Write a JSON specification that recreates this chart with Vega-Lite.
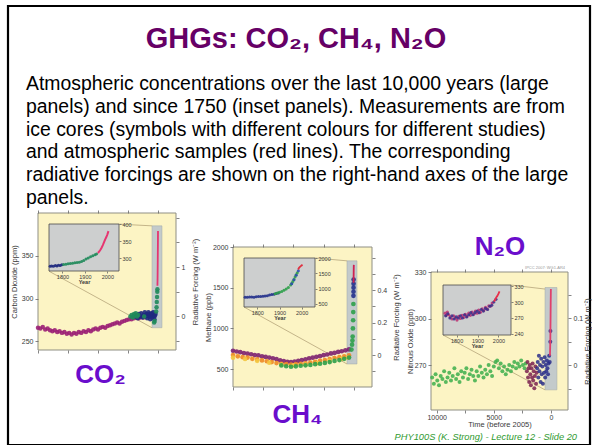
{
"$schema": "https://vega.github.io/schema/vega-lite/v6.json",
"width": 582, "height": 439, "autosize": "none",
"padding": {"left": 8, "top": 6, "right": 2, "bottom": 0},
"background": "#ffffff",
"view": {"stroke": "#000000", "strokeWidth": 2.2},
"config": {"font": "Liberation Sans", "axis": {"grid": false, "domain": false, "zindex": 1, "labelFont": "Liberation Sans", "titleFont": "Liberation Sans", "labelFontSize": 7, "titleFontSize": 7.5, "titleFontWeight": "normal", "labelColor": "#3a3a3a", "titleColor": "#3a3a3a", "tickColor": "#666666", "tickSize": 3, "tickWidth": 0.8, "labelFlush": false, "labelOverlap": false, "labelPadding": 2, "titlePadding": 3}},
"datasets": {
"lines": [
{"i": -1, "txt": "GHGs: CO₂, CH₄, N₂O"},
{"i": 1, "txt": "Atmospheric concentrations over the last 10,000 years (large"},
{"i": 2, "txt": "panels) and since 1750 (inset panels). Measurements are from"},
{"i": 3, "txt": "ice cores (symbols with different colours for different studies)"},
{"i": 4, "txt": "and atmospheric samples (red lines). The corresponding"},
{"i": 5, "txt": "radiative forcings are shown on the right-hand axes of the large"},
{"i": 6, "txt": "panels."},
{"i": 9.1, "txt": "IPCC 2007: WG1-AR4"},
{"i": 16.55, "txt": "PHY100S (K. Strong) - Lecture 12 - Slide 20"}
],
"co2": [
{"t":10000,"v":266,"s":"a"},{"t":9800,"v":265,"s":"a"},{"t":9600,"v":267,"s":"a"},{"t":9400,"v":264,"s":"a"},{"t":9200,"v":265,"s":"a"},{"t":9000,"v":263,"s":"a"},{"t":8800,"v":262,"s":"a"},{"t":8600,"v":263,"s":"a"},{"t":8400,"v":261,"s":"a"},{"t":8200,"v":262,"s":"a"},{"t":8000,"v":260,"s":"a"},{"t":7800,"v":261,"s":"a"},{"t":7600,"v":259,"s":"a"},{"t":7400,"v":260,"s":"a"},{"t":7200,"v":258,"s":"a"},{"t":7000,"v":260,"s":"a"},{"t":6800,"v":259,"s":"a"},{"t":6600,"v":261,"s":"a"},{"t":6400,"v":260,"s":"a"},{"t":6200,"v":262,"s":"a"},{"t":6000,"v":261,"s":"a"},{"t":5800,"v":263,"s":"a"},{"t":5600,"v":262,"s":"a"},{"t":5400,"v":264,"s":"a"},{"t":5200,"v":265,"s":"a"},{"t":5000,"v":264,"s":"a"},{"t":4800,"v":266,"s":"a"},{"t":4600,"v":267,"s":"a"},{"t":4400,"v":266,"s":"a"},{"t":4200,"v":268,"s":"a"},{"t":4000,"v":269,"s":"a"},{"t":3800,"v":270,"s":"a"},{"t":3600,"v":271,"s":"a"},{"t":3400,"v":272,"s":"a"},{"t":3200,"v":271,"s":"a"},{"t":3000,"v":273,"s":"a"},{"t":2800,"v":274,"s":"a"},{"t":2600,"v":275,"s":"a"},{"t":2400,"v":276,"s":"a"},{"t":2200,"v":276,"s":"a"},{"t":2000,"v":277,"s":"a"},{"t":1800,"v":278,"s":"a"},{"t":1600,"v":277,"s":"a"},{"t":1400,"v":279,"s":"a"},{"t":1200,"v":278,"s":"a"},{"t":1000,"v":280,"s":"a"},
{"t":1900,"v":279,"s":"b"},{"t":1800,"v":281,"s":"b"},{"t":1700,"v":277,"s":"b"},{"t":1600,"v":282,"s":"b"},{"t":1500,"v":279,"s":"b"},{"t":1400,"v":283,"s":"b"},{"t":1300,"v":278,"s":"b"},{"t":1200,"v":281,"s":"b"},{"t":1100,"v":284,"s":"b"},{"t":1000,"v":279,"s":"b"},{"t":950,"v":282,"s":"b"},{"t":900,"v":277,"s":"b"},{"t":850,"v":281,"s":"b"},{"t":800,"v":284,"s":"b"},{"t":750,"v":279,"s":"b"},{"t":700,"v":282,"s":"b"},{"t":650,"v":276,"s":"b"},{"t":600,"v":280,"s":"b"},{"t":550,"v":283,"s":"b"},{"t":500,"v":278,"s":"b"},{"t":450,"v":281,"s":"b"},{"t":400,"v":284,"s":"b"},{"t":350,"v":279,"s":"b"},{"t":300,"v":276,"s":"b"},{"t":250,"v":280,"s":"b"},{"t":200,"v":282,"s":"b"},
{"t":2300,"v":279,"s":"c"},{"t":2200,"v":281,"s":"c"},{"t":2100,"v":278,"s":"c"},{"t":2000,"v":282,"s":"c"},{"t":1950,"v":280,"s":"c"},{"t":1850,"v":283,"s":"c"},{"t":1750,"v":279,"s":"c"},{"t":1650,"v":281,"s":"c"},{"t":1150,"v":279,"s":"c"},{"t":320,"v":272,"s":"c"},{"t":280,"v":274,"s":"c"},{"t":150,"v":285,"s":"c"},{"t":120,"v":290,"s":"c"},{"t":100,"v":296,"s":"c"},{"t":80,"v":302,"s":"c"},{"t":60,"v":308,"s":"c"},{"t":50,"v":311,"s":"c"},
{"t":47,"v":315,"s":"d"},{"t":40,"v":320,"s":"d"},{"t":35,"v":325,"s":"d"},{"t":30,"v":331,"s":"d"},{"t":25,"v":338,"s":"d"},{"t":20,"v":346,"s":"d"},{"t":15,"v":354,"s":"d"},{"t":10,"v":361,"s":"d"},{"t":5,"v":369,"s":"d"},{"t":0,"v":379,"s":"d"}
],
"co2i": [
{"t":1745,"v":276,"s":"b"},{"t":1752,"v":277,"s":"b"},{"t":1760,"v":276,"s":"b"},{"t":1768,"v":278,"s":"b"},{"t":1775,"v":277,"s":"b"},{"t":1782,"v":279,"s":"b"},{"t":1790,"v":278,"s":"b"},{"t":1797,"v":280,"s":"b"},
{"t":1805,"v":281,"s":"c"},{"t":1815,"v":282,"s":"c"},{"t":1825,"v":283,"s":"c"},{"t":1835,"v":284,"s":"c"},{"t":1845,"v":285,"s":"c"},{"t":1855,"v":286,"s":"c"},{"t":1865,"v":287,"s":"c"},{"t":1875,"v":288,"s":"c"},{"t":1885,"v":290,"s":"c"},{"t":1895,"v":293,"s":"c"},{"t":1905,"v":297,"s":"c"},{"t":1915,"v":300,"s":"c"},{"t":1925,"v":304,"s":"c"},{"t":1935,"v":307,"s":"c"},{"t":1945,"v":310,"s":"c"},{"t":1952,"v":312,"s":"c"},
{"t":1958,"v":315,"s":"d"},{"t":1965,"v":320,"s":"d"},{"t":1970,"v":325,"s":"d"},{"t":1975,"v":331,"s":"d"},{"t":1980,"v":338,"s":"d"},{"t":1985,"v":346,"s":"d"},{"t":1990,"v":354,"s":"d"},{"t":1995,"v":361,"s":"d"},{"t":2000,"v":369,"s":"d"},{"t":2005,"v":379,"s":"d"}
],
"ch4": [
{"t":10000,"v":725,"s":"a"},{"t":9700,"v":716,"s":"a"},{"t":9400,"v":708,"s":"a"},{"t":9100,"v":697,"s":"a"},{"t":8800,"v":690,"s":"a"},{"t":8500,"v":682,"s":"a"},{"t":8200,"v":672,"s":"a"},{"t":7900,"v":668,"s":"a"},{"t":7600,"v":656,"s":"a"},{"t":7300,"v":650,"s":"a"},{"t":7000,"v":641,"s":"a"},{"t":6700,"v":632,"s":"a"},{"t":6400,"v":622,"s":"a"},{"t":6100,"v":606,"s":"a"},{"t":5800,"v":597,"s":"a"},{"t":5500,"v":590,"s":"a"},{"t":5200,"v":586,"s":"a"},{"t":4900,"v":592,"s":"a"},{"t":4600,"v":600,"s":"a"},{"t":4300,"v":611,"s":"a"},{"t":4000,"v":619,"s":"a"},{"t":3700,"v":632,"s":"a"},{"t":3400,"v":640,"s":"a"},{"t":3100,"v":651,"s":"a"},{"t":2800,"v":659,"s":"a"},{"t":2500,"v":671,"s":"a"},{"t":2200,"v":679,"s":"a"},{"t":1900,"v":692,"s":"a"},{"t":1600,"v":699,"s":"a"},{"t":1300,"v":711,"s":"a"},{"t":1000,"v":719,"s":"a"},{"t":700,"v":731,"s":"a"},{"t":400,"v":742,"s":"a"},
{"t":10000,"v":672,"s":"b"},{"t":9600,"v":657,"s":"b"},{"t":9200,"v":646,"s":"b"},{"t":8800,"v":641,"s":"b"},{"t":8400,"v":626,"s":"b"},{"t":8000,"v":619,"s":"b"},{"t":7600,"v":606,"s":"b"},{"t":7200,"v":596,"s":"b"},{"t":6800,"v":586,"s":"b"},{"t":6400,"v":574,"s":"b"},{"t":6000,"v":566,"s":"b"},{"t":5600,"v":560,"s":"b"},{"t":5200,"v":554,"s":"b"},{"t":4800,"v":560,"s":"b"},{"t":4400,"v":566,"s":"b"},{"t":4000,"v":571,"s":"b"},{"t":3600,"v":581,"s":"b"},{"t":3200,"v":589,"s":"b"},{"t":2800,"v":601,"s":"b"},{"t":2400,"v":611,"s":"b"},{"t":2000,"v":624,"s":"b"},{"t":1600,"v":636,"s":"b"},{"t":1200,"v":646,"s":"b"},{"t":800,"v":656,"s":"b"},{"t":400,"v":668,"s":"b"},
{"t":10000,"v":640,"s":"c"},{"t":9000,"v":624,"s":"c"},{"t":8000,"v":601,"s":"c"},{"t":7000,"v":579,"s":"c"},{"t":6000,"v":556,"s":"c"},{"t":5000,"v":546,"s":"c"},{"t":4000,"v":556,"s":"c"},{"t":3000,"v":574,"s":"c"},{"t":2000,"v":601,"s":"c"},{"t":1000,"v":626,"s":"c"},{"t":500,"v":641,"s":"c"},
{"t":6000,"v":545,"s":"e"},{"t":5600,"v":535,"s":"e"},{"t":5200,"v":529,"s":"e"},{"t":4800,"v":534,"s":"e"},{"t":4400,"v":541,"s":"e"},{"t":4000,"v":546,"s":"e"},{"t":3600,"v":551,"s":"e"},{"t":3200,"v":561,"s":"e"},{"t":2800,"v":566,"s":"e"},{"t":2400,"v":576,"s":"e"},{"t":2000,"v":586,"s":"e"},{"t":1600,"v":600,"s":"e"},{"t":1200,"v":611,"s":"e"},{"t":800,"v":626,"s":"e"},{"t":400,"v":641,"s":"e"},{"t":200,"v":740,"s":"e"},{"t":150,"v":800,"s":"e"},{"t":120,"v":850,"s":"e"},{"t":100,"v":900,"s":"e"},{"t":80,"v":1000,"s":"e"},{"t":60,"v":1100,"s":"e"},{"t":50,"v":1200,"s":"e"},{"t":40,"v":1300,"s":"e"},
{"t":35,"v":1400,"s":"f"},{"t":30,"v":1450,"s":"f"},{"t":27,"v":1500,"s":"f"},{"t":24,"v":1550,"s":"f"},{"t":20,"v":1600,"s":"f"},
{"t":25,"v":1560,"s":"d"},{"t":20,"v":1630,"s":"d"},{"t":15,"v":1700,"s":"d"},{"t":10,"v":1750,"s":"d"},{"t":5,"v":1775,"s":"d"},{"t":0,"v":1780,"s":"d"}
],
"ch4i": [
{"t":1745,"v":720,"s":"f"},{"t":1755,"v":715,"s":"f"},{"t":1765,"v":725,"s":"f"},{"t":1775,"v":730,"s":"f"},{"t":1785,"v":720,"s":"f"},{"t":1795,"v":735,"s":"f"},{"t":1805,"v":740,"s":"f"},{"t":1815,"v":745,"s":"f"},{"t":1825,"v":750,"s":"f"},{"t":1835,"v":760,"s":"f"},{"t":1845,"v":770,"s":"f"},{"t":1855,"v":790,"s":"f"},{"t":1865,"v":805,"s":"f"},{"t":1875,"v":820,"s":"f"},{"t":1885,"v":840,"s":"f"},{"t":1895,"v":860,"s":"f"},
{"t":1880,"v":835,"s":"e"},{"t":1890,"v":855,"s":"e"},{"t":1900,"v":880,"s":"e"},{"t":1910,"v":910,"s":"e"},{"t":1920,"v":945,"s":"e"},{"t":1930,"v":990,"s":"e"},{"t":1940,"v":1040,"s":"e"},{"t":1950,"v":1120,"s":"e"},{"t":1955,"v":1170,"s":"e"},{"t":1960,"v":1230,"s":"e"},{"t":1965,"v":1300,"s":"e"},{"t":1970,"v":1380,"s":"e"},{"t":1975,"v":1450,"s":"e"},{"t":1980,"v":1520,"s":"e"},
{"t":1955,"v":1160,"s":"g"},{"t":1965,"v":1290,"s":"g"},{"t":1975,"v":1440,"s":"g"},{"t":1985,"v":1580,"s":"g"},
{"t":1984,"v":1625,"s":"d"},{"t":1988,"v":1680,"s":"d"},{"t":1992,"v":1710,"s":"d"},{"t":1996,"v":1735,"s":"d"},{"t":2000,"v":1760,"s":"d"},{"t":2004,"v":1775,"s":"d"}
],
"n2o": [
{"t":10400,"v":262,"s":"e"},{"t":10250,"v":258,"s":"e"},{"t":10100,"v":264,"s":"e"},{"t":9950,"v":260,"s":"e"},{"t":9800,"v":257,"s":"e"},{"t":9650,"v":263,"s":"e"},{"t":9500,"v":261,"s":"e"},{"t":9350,"v":266,"s":"e"},{"t":9200,"v":259,"s":"e"},{"t":9050,"v":262,"s":"e"},{"t":8900,"v":265,"s":"e"},{"t":8750,"v":260,"s":"e"},{"t":8600,"v":263,"s":"e"},{"t":8450,"v":268,"s":"e"},{"t":8300,"v":261,"s":"e"},{"t":8150,"v":264,"s":"e"},{"t":8000,"v":259,"s":"e"},{"t":7850,"v":266,"s":"e"},{"t":7700,"v":262,"s":"e"},{"t":7550,"v":265,"s":"e"},{"t":7400,"v":268,"s":"e"},{"t":7250,"v":261,"s":"e"},{"t":7100,"v":264,"s":"e"},{"t":6950,"v":267,"s":"e"},{"t":6800,"v":263,"s":"e"},{"t":6650,"v":260,"s":"e"},{"t":6500,"v":266,"s":"e"},{"t":6350,"v":263,"s":"e"},{"t":6200,"v":269,"s":"e"},{"t":6050,"v":265,"s":"e"},{"t":5900,"v":262,"s":"e"},{"t":5750,"v":267,"s":"e"},{"t":5600,"v":264,"s":"e"},{"t":5450,"v":270,"s":"e"},{"t":5300,"v":266,"s":"e"},{"t":5150,"v":263,"s":"e"},{"t":5000,"v":269,"s":"e"},{"t":4850,"v":272,"s":"e"},{"t":4700,"v":273,"s":"e"},{"t":4550,"v":268,"s":"e"},{"t":4400,"v":271,"s":"e"},{"t":4250,"v":266,"s":"e"},{"t":4100,"v":269,"s":"e"},{"t":3950,"v":264,"s":"e"},{"t":3800,"v":267,"s":"e"},{"t":3650,"v":270,"s":"e"},{"t":3500,"v":266,"s":"e"},{"t":3350,"v":269,"s":"e"},{"t":3200,"v":272,"s":"e"},{"t":3050,"v":268,"s":"e"},{"t":2900,"v":271,"s":"e"},{"t":2750,"v":269,"s":"e"},{"t":2600,"v":273,"s":"e"},{"t":2450,"v":270,"s":"e"},{"t":2300,"v":268,"s":"e"},{"t":2200,"v":271,"s":"e"},
{"t":2100,"v":266,"s":"a"},{"t":2050,"v":272,"s":"a"},{"t":2000,"v":262,"s":"a"},{"t":1950,"v":268,"s":"a"},{"t":1900,"v":259,"s":"a"},{"t":1850,"v":270,"s":"a"},{"t":1800,"v":264,"s":"a"},{"t":1750,"v":257,"s":"a"},{"t":1700,"v":268,"s":"a"},{"t":1650,"v":262,"s":"a"},{"t":1600,"v":271,"s":"a"},{"t":1550,"v":260,"s":"a"},{"t":1500,"v":266,"s":"a"},{"t":1450,"v":255,"s":"a"},{"t":1400,"v":263,"s":"a"},{"t":1350,"v":269,"s":"a"},{"t":1300,"v":258,"s":"a"},{"t":1250,"v":265,"s":"a"},
{"t":1200,"v":268,"s":"b"},{"t":1150,"v":272,"s":"b"},{"t":1100,"v":262,"s":"b"},{"t":1050,"v":276,"s":"b"},{"t":1000,"v":266,"s":"b"},{"t":950,"v":270,"s":"b"},{"t":900,"v":259,"s":"b"},{"t":850,"v":274,"s":"b"},{"t":800,"v":264,"s":"b"},{"t":750,"v":269,"s":"b"},{"t":700,"v":258,"s":"b"},{"t":650,"v":272,"s":"b"},{"t":600,"v":265,"s":"b"},{"t":550,"v":275,"s":"b"},{"t":500,"v":262,"s":"b"},{"t":450,"v":270,"s":"b"},{"t":400,"v":266,"s":"b"},{"t":350,"v":273,"s":"b"},{"t":300,"v":268,"s":"b"},{"t":250,"v":264,"s":"b"},{"t":200,"v":271,"s":"b"},{"t":150,"v":276,"s":"b"},{"t":100,"v":272,"s":"b"},{"t":50,"v":285,"s":"b"},{"t":40,"v":292,"s":"b"},
{"t":80,"v":276,"s":"d"},{"t":60,"v":282,"s":"d"},{"t":45,"v":288,"s":"d"},{"t":35,"v":295,"s":"d"},{"t":25,"v":302,"s":"d"},{"t":15,"v":310,"s":"d"},{"t":5,"v":316,"s":"d"},{"t":0,"v":319,"s":"d"}
],
"n2oi": [
{"t":1745,"v":279,"s":"a"},{"t":1750,"v":275,"s":"a"},{"t":1756,"v":281,"s":"a"},{"t":1762,"v":276,"s":"a"},{"t":1770,"v":272,"s":"a"},{"t":1778,"v":268,"s":"a"},{"t":1786,"v":274,"s":"a"},{"t":1794,"v":270,"s":"a"},{"t":1802,"v":266,"s":"a"},{"t":1810,"v":273,"s":"a"},{"t":1818,"v":269,"s":"a"},{"t":1826,"v":275,"s":"a"},{"t":1834,"v":271,"s":"a"},{"t":1842,"v":277,"s":"a"},{"t":1850,"v":273,"s":"a"},{"t":1858,"v":279,"s":"a"},{"t":1866,"v":275,"s":"a"},{"t":1874,"v":281,"s":"a"},{"t":1882,"v":277,"s":"a"},{"t":1890,"v":283,"s":"a"},{"t":1898,"v":279,"s":"a"},{"t":1906,"v":285,"s":"a"},{"t":1914,"v":281,"s":"a"},{"t":1922,"v":287,"s":"a"},{"t":1930,"v":284,"s":"a"},{"t":1938,"v":290,"s":"a"},{"t":1946,"v":287,"s":"a"},{"t":1954,"v":293,"s":"a"},{"t":1962,"v":292,"s":"a"},{"t":1970,"v":298,"s":"a"},
{"t":1748,"v":274,"s":"b"},{"t":1758,"v":278,"s":"b"},{"t":1768,"v":270,"s":"b"},{"t":1778,"v":274,"s":"b"},{"t":1788,"v":268,"s":"b"},{"t":1798,"v":272,"s":"b"},{"t":1808,"v":270,"s":"b"},{"t":1818,"v":274,"s":"b"},{"t":1828,"v":270,"s":"b"},{"t":1838,"v":276,"s":"b"},{"t":1848,"v":272,"s":"b"},{"t":1858,"v":276,"s":"b"},{"t":1868,"v":280,"s":"b"},{"t":1878,"v":276,"s":"b"},{"t":1888,"v":280,"s":"b"},{"t":1898,"v":283,"s":"b"},{"t":1908,"v":280,"s":"b"},{"t":1918,"v":286,"s":"b"},{"t":1928,"v":283,"s":"b"},{"t":1938,"v":288,"s":"b"},{"t":1948,"v":286,"s":"b"},{"t":1958,"v":292,"s":"b"},{"t":1968,"v":294,"s":"b"},{"t":1978,"v":300,"s":"b"},{"t":1988,"v":305,"s":"b"},
{"t":1978,"v":301,"s":"d"},{"t":1982,"v":303,"s":"d"},{"t":1986,"v":306,"s":"d"},{"t":1990,"v":309,"s":"d"},{"t":1994,"v":311,"s":"d"},{"t":1998,"v":314,"s":"d"},{"t":2002,"v":317,"s":"d"},{"t":2005,"v":320,"s":"d"}
]
},
"resolve": {"scale": {"x": "independent", "y": "independent", "color": "independent"}, "axis": {"x": "independent", "y": "independent"}},
"layer": [
{"data": {"name": "lines"}, "transform": [{"filter": "datum.i == -1"}],
 "mark": {"type": "text", "fontSize": 29, "fontWeight": "bold", "color": "#660066", "align": "center", "baseline": "middle", "font": "Liberation Sans"},
 "encoding": {"text": {"field": "txt"}, "x": {"datum": 0.49, "type": "quantitative", "scale": {"domain": [0, 1], "range": [18, 569], "nice": false, "zero": false}, "axis": null}, "y": {"field": "i", "type": "quantitative", "scale": {"domain": [-1, 6], "range": [32.8, 191.6], "nice": false, "zero": false}, "axis": null}}},
{"data": {"name": "lines"}, "transform": [{"filter": "datum.i >= 1 && datum.i <= 6"}],
 "mark": {"type": "text", "fontSize": 19.4, "color": "#000000", "align": "left", "baseline": "middle", "font": "Liberation Sans"},
 "encoding": {"text": {"field": "txt"}, "x": {"datum": 0, "type": "quantitative", "scale": {"domain": [0, 1], "range": [18, 569], "nice": false, "zero": false}, "axis": null}, "y": {"field": "i", "type": "quantitative", "scale": {"domain": [-1, 6], "range": [32.8, 191.6], "nice": false, "zero": false}, "axis": null}}},
{"data": {"name": "lines"}, "transform": [{"filter": "datum.i > 9 && datum.i < 10"}],
 "mark": {"type": "text", "fontSize": 4, "color": "#9a9a9a", "align": "center", "baseline": "middle", "font": "Liberation Sans"},
 "encoding": {"text": {"field": "txt"}, "x": {"datum": 0.942, "type": "quantitative", "scale": {"domain": [0, 1], "range": [18, 569], "nice": false, "zero": false}, "axis": null}, "y": {"field": "i", "type": "quantitative", "scale": {"domain": [-1, 6], "range": [32.8, 191.6], "nice": false, "zero": false}, "axis": null}}},
{"data": {"name": "lines"}, "transform": [{"filter": "datum.i > 10"}],
 "mark": {"type": "text", "fontSize": 9.3, "fontStyle": "italic", "color": "#2f9a30", "align": "right", "baseline": "middle", "font": "Liberation Sans"},
 "encoding": {"text": {"field": "txt"}, "x": {"datum": 1, "type": "quantitative", "scale": {"domain": [0, 1], "range": [18, 569], "nice": false, "zero": false}, "axis": null}, "y": {"field": "i", "type": "quantitative", "scale": {"domain": [-1, 6], "range": [32.8, 191.6], "nice": false, "zero": false}, "axis": null}}},

{"data": {"values": [{}]}, "mark": {"type": "rect", "fill": "#fcf4c4", "stroke": "#8f8f84", "strokeWidth": 1},
 "encoding": {
  "x": {"datum": 10000, "type": "quantitative", "scale": {"domain": [10000, -1500], "range": [30, 168], "nice": false, "zero": false}, "axis": {"orient": "bottom", "offset": -95, "zindex": 1, "values": [10000, 7500, 5000, 2500, 0], "labels": false, "title": "CO₂", "titleFontSize": 26, "titleFontWeight": "bold", "titleColor": "#6a0dcc", "titlePadding": 8, "titleX": 92}},
  "x2": {"datum": -1500},
  "y": {"datum": 240, "type": "quantitative", "scale": {"domain": [240, 400], "range": [344, 207], "nice": false, "zero": false}, "axis": {"orient": "left", "offset": -30, "zindex": 1, "values": [250, 300, 350], "format": "d", "title": "Carbon Dioxide (ppm)"}},
  "y2": {"datum": 400}}},
{"data": {"values": [{}]}, "mark": {"type": "rect", "fill": "#c3cacb", "stroke": "#a0a8a8", "strokeWidth": 0.5},
 "encoding": {
  "x": {"datum": 500, "type": "quantitative", "scale": {"domain": [10000, -1500], "range": [30, 168], "nice": false, "zero": false}, "axis": {"orient": "top", "offset": -207, "zindex": 1, "values": [10000, 7500, 5000, 2500, 0], "labels": false, "title": null}},
  "x2": {"datum": -330},
  "y": {"datum": 266, "type": "quantitative", "scale": {"domain": [240, 400], "range": [344, 207], "nice": false, "zero": false}, "axis": null},
  "y2": {"datum": 385}}},
{"data": {"values": [{"t": 9083, "v": 332, "t2": 500, "v2": 266}, {"t": 3250, "v": 387, "t2": 500, "v2": 385}]},
 "mark": {"type": "rule", "color": "#b5a57a", "strokeWidth": 0.8},
 "encoding": {
  "x": {"field": "t", "type": "quantitative", "scale": {"domain": [10000, -1500], "range": [30, 168], "nice": false, "zero": false}, "axis": null}, "x2": {"field": "t2"},
  "y": {"field": "v", "type": "quantitative", "scale": {"domain": [240, 400], "range": [344, 207], "nice": false, "zero": false}, "axis": null}, "y2": {"field": "v2"}}},
{"data": {"name": "co2"}, "transform": [{"filter": "datum.s != 'd'"}],
 "mark": {"type": "circle", "size": 20, "opacity": 0.9},
 "encoding": {
  "x": {"field": "t", "type": "quantitative", "scale": {"domain": [10000, -1500], "range": [30, 168], "nice": false, "zero": false}, "axis": null},
  "y": {"field": "v", "type": "quantitative", "scale": {"domain": [240, 400], "range": [344, 207], "nice": false, "zero": false}, "axis": null},
  "color": {"field": "s", "type": "nominal", "scale": {"domain": ["a", "b", "c"], "range": ["#9b2076", "#1f2a80", "#1f8a5a"]}, "legend": null}}},
{"data": {"name": "co2"}, "transform": [{"filter": "datum.s == 'd'"}],
 "mark": {"type": "line", "color": "#e63570", "strokeWidth": 1.8},
 "encoding": {
  "x": {"field": "t", "type": "quantitative", "scale": {"domain": [10000, -1500], "range": [30, 168], "nice": false, "zero": false}, "axis": null},
  "y": {"field": "v", "type": "quantitative", "scale": {"domain": [240, 400], "range": [344, 207], "nice": false, "zero": false}, "axis": null}}},
{"data": {"values": [{}]}, "mark": {"type": "rule", "opacity": 0},
 "encoding": {"y": {"datum": 0, "type": "quantitative", "scale": {"domain": [-0.69, 2.1], "range": [344, 207], "nice": false, "zero": false}, "axis": {"orient": "right", "offset": -414, "zindex": 1, "values": [-0.5, 0, 0.5, 1, 1.5, 2], "labelExpr": "datum.value == 0 ? '0' : datum.value == 1 ? '1' : ''", "title": "Radiative Forcing (W m⁻²)", "titleAngle": 270, "titlePadding": 15}}}},
{"data": {"values": [{}]}, "mark": {"type": "rect", "fill": "#cdcfcf", "stroke": "#4a4a4a", "strokeWidth": 0.8},
 "encoding": {
  "x": {"datum": 1740, "type": "quantitative", "scale": {"domain": [1740, 2052], "range": [41, 111], "nice": false, "zero": false}, "axis": {"orient": "bottom", "offset": -174, "zindex": 2, "values": [1800, 1900, 2000], "format": "d", "labelFontSize": 5.5, "tickSize": 2, "labelPadding": 1, "title": "Year", "titleFontSize": 5.5, "titleFontWeight": "bold", "titlePadding": 0}},
  "x2": {"datum": 2052},
  "y": {"datum": 262, "type": "quantitative", "scale": {"domain": [262, 400], "range": [265, 218], "nice": false, "zero": false}, "axis": {"orient": "right", "offset": -471, "zindex": 2, "values": [300, 350, 400], "format": "d", "labelFontSize": 5.5, "tickSize": 2, "labelPadding": 1, "title": null}},
  "y2": {"datum": 400}}},
{"data": {"name": "co2i"}, "transform": [{"filter": "datum.s != 'd'"}],
 "mark": {"type": "circle", "size": 9, "opacity": 0.9},
 "encoding": {
  "x": {"field": "t", "type": "quantitative", "scale": {"domain": [1740, 2052], "range": [41, 111], "nice": false, "zero": false}, "axis": null},
  "y": {"field": "v", "type": "quantitative", "scale": {"domain": [262, 400], "range": [265, 218], "nice": false, "zero": false}, "axis": null},
  "color": {"field": "s", "type": "nominal", "scale": {"domain": ["b", "c"], "range": ["#1f2a80", "#1f8a5a"]}, "legend": null}}},
{"data": {"name": "co2i"}, "transform": [{"filter": "datum.s == 'd'"}],
 "mark": {"type": "line", "color": "#e63570", "strokeWidth": 2},
 "encoding": {
  "x": {"field": "t", "type": "quantitative", "scale": {"domain": [1740, 2052], "range": [41, 111], "nice": false, "zero": false}, "axis": null},
  "y": {"field": "v", "type": "quantitative", "scale": {"domain": [262, 400], "range": [265, 218], "nice": false, "zero": false}, "axis": null}}},

{"data": {"values": [{}]}, "mark": {"type": "rect", "fill": "#fcf4c4", "stroke": "#8f8f84", "strokeWidth": 1},
 "encoding": {
  "x": {"datum": 10000, "type": "quantitative", "scale": {"domain": [10000, -1500], "range": [225, 364], "nice": false, "zero": false}, "axis": {"orient": "bottom", "offset": -58, "zindex": 1, "values": [10000, 7500, 5000, 2500, 0], "labels": false, "title": "CH₄", "titleFontSize": 26, "titleFontWeight": "bold", "titleColor": "#6a0dcc", "titlePadding": 11, "titleX": 289}},
  "x2": {"datum": -1500},
  "y": {"datum": 280, "type": "quantitative", "scale": {"domain": [280, 2000], "range": [381, 241], "nice": false, "zero": false}, "axis": {"orient": "left", "offset": -225, "zindex": 1, "values": [500, 1000, 1500, 2000], "format": "d", "title": "Methane (ppb)", "titlePadding": 0}},
  "y2": {"datum": 2000}}},
{"data": {"values": [{}]}, "mark": {"type": "rect", "fill": "#c3cacb", "stroke": "#a0a8a8", "strokeWidth": 0.5},
 "encoding": {
  "x": {"datum": 570, "type": "quantitative", "scale": {"domain": [10000, -1500], "range": [225, 364], "nice": false, "zero": false}, "axis": {"orient": "top", "offset": -241, "zindex": 1, "values": [10000, 7500, 5000, 2500, 0], "labels": false, "title": null}},
  "x2": {"datum": -260},
  "y": {"datum": 563, "type": "quantitative", "scale": {"domain": [280, 2000], "range": [381, 241], "nice": false, "zero": false}, "axis": null},
  "y2": {"datum": 1830}}},
{"data": {"values": [{"t": 9090, "v": 1263, "t2": 570, "v2": 563}, {"t": 3216, "v": 1865, "t2": 570, "v2": 1830}]},
 "mark": {"type": "rule", "color": "#b5a57a", "strokeWidth": 0.8},
 "encoding": {
  "x": {"field": "t", "type": "quantitative", "scale": {"domain": [10000, -1500], "range": [225, 364], "nice": false, "zero": false}, "axis": null}, "x2": {"field": "t2"},
  "y": {"field": "v", "type": "quantitative", "scale": {"domain": [280, 2000], "range": [381, 241], "nice": false, "zero": false}, "axis": null}, "y2": {"field": "v2"}}},
{"data": {"name": "ch4"}, "transform": [{"filter": "datum.s != 'd'"}],
 "mark": {"type": "circle", "size": 22, "opacity": 0.9},
 "encoding": {
  "x": {"field": "t", "type": "quantitative", "scale": {"domain": [10000, -1500], "range": [225, 364], "nice": false, "zero": false}, "axis": null},
  "y": {"field": "v", "type": "quantitative", "scale": {"domain": [280, 2000], "range": [381, 241], "nice": false, "zero": false}, "axis": null},
  "color": {"field": "s", "type": "nominal", "scale": {"domain": ["a", "b", "c", "e", "f"], "range": ["#7d2270", "#ee8a25", "#f3c640", "#2ea04a", "#23318c"]}, "legend": null}}},
{"data": {"name": "ch4"}, "transform": [{"filter": "datum.s == 'd'"}],
 "mark": {"type": "line", "color": "#d02050", "strokeWidth": 1.8},
 "encoding": {
  "x": {"field": "t", "type": "quantitative", "scale": {"domain": [10000, -1500], "range": [225, 364], "nice": false, "zero": false}, "axis": null},
  "y": {"field": "v", "type": "quantitative", "scale": {"domain": [280, 2000], "range": [381, 241], "nice": false, "zero": false}, "axis": null}}},
{"data": {"values": [{}]}, "mark": {"type": "rule", "opacity": 0},
 "encoding": {"y": {"datum": 0, "type": "quantitative", "scale": {"domain": [-0.197, 0.665], "range": [381, 241], "nice": false, "zero": false}, "axis": {"orient": "right", "offset": -218, "zindex": 1, "values": [-0.1, 0, 0.1, 0.2, 0.3, 0.4, 0.5, 0.6], "labelExpr": "datum.value == 0 ? '0' : abs(datum.value - 0.2) < 0.001 ? '0.2' : abs(datum.value - 0.4) < 0.001 ? '0.4' : ''", "title": "Radiative Forcing (W m⁻²)", "titleAngle": 270, "titlePadding": 14}}}},
{"data": {"values": [{}]}, "mark": {"type": "rect", "fill": "#cdcfcf", "stroke": "#4a4a4a", "strokeWidth": 0.8},
 "encoding": {
  "x": {"datum": 1740, "type": "quantitative", "scale": {"domain": [1740, 2060], "range": [236, 307], "nice": false, "zero": false}, "axis": {"orient": "bottom", "offset": -138, "zindex": 2, "values": [1800, 1900, 2000], "format": "d", "labelFontSize": 5.5, "tickSize": 2, "labelPadding": 1, "title": "Year", "titleFontSize": 5.5, "titleFontWeight": "bold", "titlePadding": 0}},
  "x2": {"datum": 2060},
  "y": {"datum": 400, "type": "quantitative", "scale": {"domain": [400, 2000], "range": [301, 252], "nice": false, "zero": false}, "axis": {"orient": "right", "offset": -275, "zindex": 2, "values": [500, 1000, 1500, 2000], "format": "d", "labelFontSize": 5.5, "tickSize": 2, "labelPadding": 1, "title": null}},
  "y2": {"datum": 2000}}},
{"data": {"name": "ch4i"}, "transform": [{"filter": "datum.s != 'd'"}],
 "mark": {"type": "circle", "size": 9, "opacity": 0.9},
 "encoding": {
  "x": {"field": "t", "type": "quantitative", "scale": {"domain": [1740, 2060], "range": [236, 307], "nice": false, "zero": false}, "axis": null},
  "y": {"field": "v", "type": "quantitative", "scale": {"domain": [400, 2000], "range": [301, 252], "nice": false, "zero": false}, "axis": null},
  "color": {"field": "s", "type": "nominal", "scale": {"domain": ["e", "f", "g"], "range": ["#2ea04a", "#23318c", "#3050b0"]}, "legend": null}}},
{"data": {"name": "ch4i"}, "transform": [{"filter": "datum.s == 'd'"}],
 "mark": {"type": "line", "color": "#e03040", "strokeWidth": 1.8},
 "encoding": {
  "x": {"field": "t", "type": "quantitative", "scale": {"domain": [1740, 2060], "range": [236, 307], "nice": false, "zero": false}, "axis": null},
  "y": {"field": "v", "type": "quantitative", "scale": {"domain": [400, 2000], "range": [301, 252], "nice": false, "zero": false}, "axis": null}}},

{"data": {"values": [{}]}, "mark": {"type": "rect", "fill": "#fcf4c4", "stroke": "#8f8f84", "strokeWidth": 1},
 "encoding": {
  "x": {"datum": 10500, "type": "quantitative", "scale": {"domain": [10500, -1500], "range": [423, 560], "nice": false, "zero": false}, "axis": {"orient": "bottom", "offset": -35, "zindex": 1, "values": [10000, 7500, 5000, 2500, 0], "format": "d", "labelExpr": "datum.value % 5000 == 0 ? datum.label : ''", "labelPadding": 0, "title": "Time (before 2005)", "titlePadding": 0}},
  "x2": {"datum": -1500},
  "y": {"datum": 241, "type": "quantitative", "scale": {"domain": [241, 330], "range": [404, 266], "nice": false, "zero": false}, "axis": {"orient": "left", "offset": -423, "zindex": 1, "values": [270, 300, 330], "format": "d", "title": "Nitrous Oxide (ppb)", "titlePadding": 0}},
  "y2": {"datum": 330}}},
{"data": {"values": [{}]}, "mark": {"type": "rect", "fill": "#c3cacb", "stroke": "#a0a8a8", "strokeWidth": 0.5},
 "encoding": {
  "x": {"datum": 515, "type": "quantitative", "scale": {"domain": [10500, -1500], "range": [423, 560], "nice": false, "zero": false}, "axis": {"orient": "top", "offset": -266, "zindex": 1, "values": [10000, 7500, 5000, 2500, 0], "labels": false, "title": "N₂O", "titleFontSize": 26, "titleFontWeight": "bold", "titleColor": "#6a0dcc", "titlePadding": 9}},
  "x2": {"datum": -530},
  "y": {"datum": 254, "type": "quantitative", "scale": {"domain": [241, 330], "range": [404, 266], "nice": false, "zero": false}, "axis": null},
  "y2": {"datum": 320}}},
{"data": {"values": [{"t": 9449, "v": 289.4, "t2": 515, "v2": 254}, {"t": 3493, "v": 321.6, "t2": 515, "v2": 319}]},
 "mark": {"type": "rule", "color": "#b5a57a", "strokeWidth": 0.8},
 "encoding": {
  "x": {"field": "t", "type": "quantitative", "scale": {"domain": [10500, -1500], "range": [423, 560], "nice": false, "zero": false}, "axis": null}, "x2": {"field": "t2"},
  "y": {"field": "v", "type": "quantitative", "scale": {"domain": [241, 330], "range": [404, 266], "nice": false, "zero": false}, "axis": null}, "y2": {"field": "v2"}}},
{"data": {"name": "n2o"}, "transform": [{"filter": "datum.s != 'd'"}],
 "mark": {"type": "circle", "size": 16, "opacity": 0.85},
 "encoding": {
  "x": {"field": "t", "type": "quantitative", "scale": {"domain": [10500, -1500], "range": [423, 560], "nice": false, "zero": false}, "axis": null},
  "y": {"field": "v", "type": "quantitative", "scale": {"domain": [241, 330], "range": [404, 266], "nice": false, "zero": false}, "axis": null},
  "color": {"field": "s", "type": "nominal", "scale": {"domain": ["a", "b", "e"], "range": ["#7a2050", "#2a2e8a", "#3cae4c"]}, "legend": null}}},
{"data": {"name": "n2o"}, "transform": [{"filter": "datum.s == 'd'"}],
 "mark": {"type": "line", "color": "#e0406a", "strokeWidth": 1.8},
 "encoding": {
  "x": {"field": "t", "type": "quantitative", "scale": {"domain": [10500, -1500], "range": [423, 560], "nice": false, "zero": false}, "axis": null},
  "y": {"field": "v", "type": "quantitative", "scale": {"domain": [241, 330], "range": [404, 266], "nice": false, "zero": false}, "axis": null}}},
{"data": {"values": [{}]}, "mark": {"type": "rule", "opacity": 0},
 "encoding": {"y": {"datum": 0, "type": "quantitative", "scale": {"domain": [-0.0957, 0.198], "range": [404, 266], "nice": false, "zero": false}, "axis": {"orient": "right", "offset": -22, "zindex": 1, "values": [-0.05, 0, 0.05, 0.1, 0.15], "labelExpr": "datum.value == 0 ? '0' : abs(datum.value - 0.1) < 0.001 ? '0.1' : ''", "title": "Radiative Forcing (W m⁻²)", "titleAngle": 270, "titlePadding": 9}}}},
{"data": {"values": [{}]}, "mark": {"type": "rect", "fill": "#cdcfcf", "stroke": "#4a4a4a", "strokeWidth": 0.8},
 "encoding": {
  "x": {"datum": 1735, "type": "quantitative", "scale": {"domain": [1735, 2060], "range": [435, 503], "nice": false, "zero": false}, "axis": {"orient": "bottom", "offset": -110, "zindex": 2, "values": [1800, 1900, 2000], "format": "d", "labelFontSize": 5.5, "tickSize": 2, "labelPadding": 1, "title": "Year", "titleFontSize": 5.5, "titleFontWeight": "bold", "titlePadding": 0}},
  "x2": {"datum": 2060},
  "y": {"datum": 238, "type": "quantitative", "scale": {"domain": [238, 332], "range": [329, 279], "nice": false, "zero": false}, "axis": {"orient": "right", "offset": -79, "zindex": 2, "values": [240, 270, 300, 330], "format": "d", "labelFontSize": 5.5, "tickSize": 2, "labelPadding": 1, "title": null}},
  "y2": {"datum": 332}}},
{"data": {"name": "n2oi"}, "transform": [{"filter": "datum.s != 'd'"}],
 "mark": {"type": "circle", "size": 10, "opacity": 0.85},
 "encoding": {
  "x": {"field": "t", "type": "quantitative", "scale": {"domain": [1735, 2060], "range": [435, 503], "nice": false, "zero": false}, "axis": null},
  "y": {"field": "v", "type": "quantitative", "scale": {"domain": [238, 332], "range": [329, 279], "nice": false, "zero": false}, "axis": null},
  "color": {"field": "s", "type": "nominal", "scale": {"domain": ["a", "b"], "range": ["#c03070", "#3a2e8a"]}, "legend": null}}},
{"data": {"name": "n2oi"}, "transform": [{"filter": "datum.s == 'd'"}],
 "mark": {"type": "line", "color": "#e8304a", "strokeWidth": 1.8},
 "encoding": {
  "x": {"field": "t", "type": "quantitative", "scale": {"domain": [1735, 2060], "range": [435, 503], "nice": false, "zero": false}, "axis": null},
  "y": {"field": "v", "type": "quantitative", "scale": {"domain": [238, 332], "range": [329, 279], "nice": false, "zero": false}, "axis": null}}}
]
}
